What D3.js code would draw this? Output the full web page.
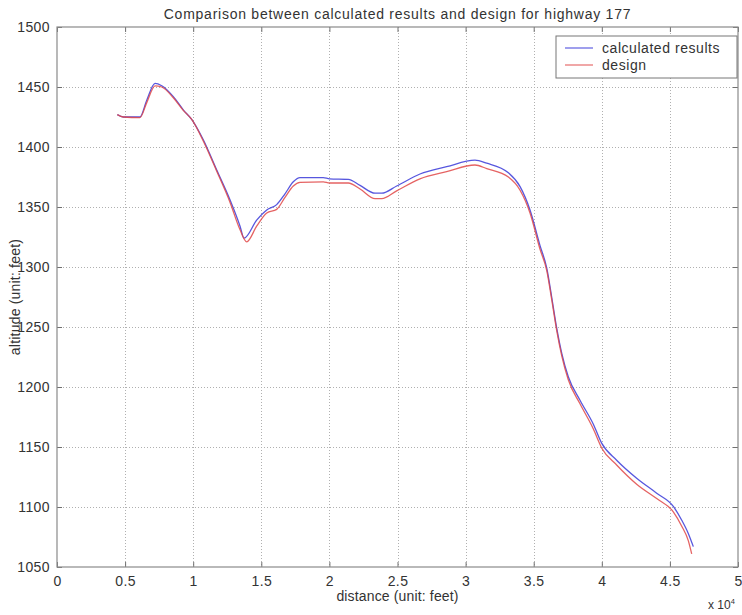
<!DOCTYPE html>
<html>
<head>
<meta charset="utf-8">
<script src="https://cdn.jsdelivr.net/npm/d3@7"></script>
<style>
  html, body { margin: 0; padding: 0; background: #fff; }
  svg { display: block; font-family: "Liberation Sans", Arial, sans-serif; }
</style>
</head>
<body>
<svg id="chart" width="742" height="615"></svg>
<script>
// Highway 177 profile: distance along the road (feet) vs altitude (feet)
const calcDistance = [4430, 4870, 6090, 6590, 7200, 7690, 8540, 9270, 9890, 10740, 11720, 12700, 13440, 13730,
  14660, 15400, 16130, 16740, 17350, 17840, 19550, 20000, 21390, 22250, 23350, 23840, 24940, 26650, 28610,
  30690, 31550, 33140, 34000, 34730, 35460, 35960, 36320, 36690, 37060, 37540, 38400, 39380, 40000, 41090,
  42560, 44030, 45250, 45870, 46350, 46720];
const calcAltitude = [1427, 1425, 1425, 1439, 1453, 1451, 1442, 1431, 1423, 1406, 1381, 1356, 1334, 1324,
  1339, 1347.5, 1352, 1361, 1371, 1374.5, 1374.5, 1373.5, 1373, 1368, 1361.5, 1361.5, 1367.5, 1377.5, 1383.6,
  1389, 1386.5, 1378.5, 1367, 1347.5, 1318, 1299, 1275, 1249, 1228, 1208.6, 1189, 1169, 1153, 1139,
  1124, 1111.5, 1100.5, 1089, 1078, 1067];

const designDistance = [4430, 4870, 6090, 6590, 7200, 7690, 8540, 9270, 9890, 10740, 11720, 12700, 13440, 13930,
  14660, 15400, 16130, 16740, 17350, 17840, 19550, 20000, 21390, 22250, 23350, 23840, 24940, 26650, 28610,
  30690, 31550, 33140, 34000, 34730, 35460, 35960, 36320, 36690, 37060, 37540, 38400, 39380, 40000, 41090,
  42560, 44030, 45250, 45870, 46350, 46600];
const designAltitude = [1427, 1425, 1424.5, 1437, 1451, 1450, 1441, 1430.5, 1423, 1405, 1380, 1354, 1331, 1321,
  1334, 1345, 1348, 1358, 1367.5, 1370.5, 1371, 1370, 1370, 1365, 1357, 1357, 1363.5, 1373.5, 1379.5,
  1385, 1382, 1375, 1364, 1345, 1315, 1297, 1273, 1247, 1226, 1206, 1186, 1165, 1149, 1135,
  1119, 1107, 1096, 1084, 1072, 1061];

const xTicks = [0, 5000, 10000, 15000, 20000, 25000, 30000, 35000, 40000, 45000, 50000];
const yTicks = [1050, 1100, 1150, 1200, 1250, 1300, 1350, 1400, 1450, 1500];

const seriesNames = ["calculated results", "design"];
const seriesColors = ["#3a3ad8", "#e04848"];

const svg = d3.select("#chart");
const margin = { left: 57, right: 4, top: 27, bottom: 48 };
const W = 742, H = 615;
const FS = 14;
const x = d3.scaleLinear().domain([0, 50000]).range([margin.left, W - margin.right]);
const y = d3.scaleLinear().domain([1050, 1500]).range([H - margin.bottom, margin.top]);

const x0 = x.range()[0], x1 = x.range()[1], y0 = y.range()[0], y1 = y.range()[1];

// dotted grid
const grid = svg.append("g").attr("stroke", "#b0b0b0").attr("stroke-width", 1)
  .attr("stroke-dasharray", "1,2");
grid.selectAll("line.v").data(xTicks.slice(1, -1)).join("line").attr("class", "v")
  .attr("x1", d => Math.round(x(d)) + 0.5).attr("x2", d => Math.round(x(d)) + 0.5)
  .attr("y1", y1).attr("y2", y0);
grid.selectAll("line.h").data(yTicks.slice(1, -1)).join("line").attr("class", "h")
  .attr("y1", d => Math.round(y(d)) + 0.5).attr("y2", d => Math.round(y(d)) + 0.5)
  .attr("x1", x0).attr("x2", x1);

// axes with inward ticks on every side
const fmtX = d => d3.format("~g")(d / 10000);
const axisStyle = g => {
  g.selectAll(".domain").remove();
  g.selectAll(".tick line").attr("stroke", "#707070");
  g.selectAll(".tick text").attr("fill", "#333").attr("font-size", FS)
    .attr("letter-spacing", 0.4)
    .attr("font-family", "Liberation Sans, Arial, sans-serif");
};
svg.append("g").attr("transform", `translate(0,${y0})`)
  .call(d3.axisBottom(x).tickValues(xTicks).tickFormat(fmtX).tickSizeInner(-5).tickSizeOuter(0).tickPadding(9))
  .call(axisStyle);
svg.append("g").attr("transform", `translate(0,${y1})`)
  .call(d3.axisTop(x).tickValues(xTicks).tickFormat("").tickSizeInner(-5).tickSizeOuter(0))
  .call(axisStyle);
svg.append("g").attr("transform", `translate(${x0},0)`)
  .call(d3.axisLeft(y).tickValues(yTicks).tickFormat(d3.format("d")).tickSizeInner(-5).tickSizeOuter(0).tickPadding(7))
  .call(axisStyle);
svg.append("g").attr("transform", `translate(${x1},0)`)
  .call(d3.axisRight(y).tickValues(yTicks).tickFormat("").tickSizeInner(-5).tickSizeOuter(0))
  .call(axisStyle);

// plot box
svg.append("rect").attr("x", x0).attr("y", y1).attr("width", x1 - x0).attr("height", y0 - y1)
  .attr("fill", "none").attr("stroke", "#8a8a8a").attr("stroke-width", 1.2);

// profile lines
const line = d3.line().x(d => x(d[0])).y(d => y(d[1])).curve(d3.curveMonotoneX);
const series = [d3.zip(calcDistance, calcAltitude), d3.zip(designDistance, designAltitude)];
svg.append("g").selectAll("path").data(series).join("path")
  .attr("d", line).attr("fill", "none")
  .attr("stroke", (d, i) => seriesColors[i]).attr("stroke-width", 1.3)
  .attr("stroke-opacity", 0.85);

// title and axis labels
svg.append("text").attr("x", (x0 + x1) / 2).attr("y", 19).attr("text-anchor", "middle")
  .attr("font-size", FS).attr("letter-spacing", 0.75).attr("fill", "#333")
  .text("Comparison between calculated results and design for highway 177");
svg.append("text").attr("x", (x0 + x1) / 2).attr("y", 601).attr("text-anchor", "middle")
  .attr("font-size", FS).attr("letter-spacing", 0.15).attr("fill", "#333").text("distance (unit: feet)");
svg.append("text").attr("transform", `translate(20,${(y0 + y1) / 2}) rotate(-90)`)
  .attr("text-anchor", "middle").attr("font-size", FS).attr("letter-spacing", 0.2).attr("fill", "#333")
  .text("altitude (unit: feet)");
const mult = svg.append("text").attr("x", 708).attr("y", 609).attr("font-size", 12).attr("fill", "#333");
mult.append("tspan").text("x 10");
mult.append("tspan").attr("dy", -5).attr("font-size", 7.5).text("4");

// legend
const lg = svg.append("g").attr("transform", "translate(556,36)");
lg.append("rect").attr("width", 181).attr("height", 42).attr("fill", "#fff")
  .attr("stroke", "#777").attr("stroke-width", 1);
seriesNames.forEach((name, i) => {
  const cy = 12 + i * 17;
  lg.append("line").attr("x1", 9).attr("x2", 37).attr("y1", cy).attr("y2", cy)
    .attr("stroke", seriesColors[i]).attr("stroke-width", 1.3).attr("stroke-opacity", 0.75);
  lg.append("text").attr("x", 46).attr("y", cy + 5).attr("font-size", FS).attr("letter-spacing", 0.55)
    .attr("fill", "#333").text(name);
});
</script>
</body>
</html>
